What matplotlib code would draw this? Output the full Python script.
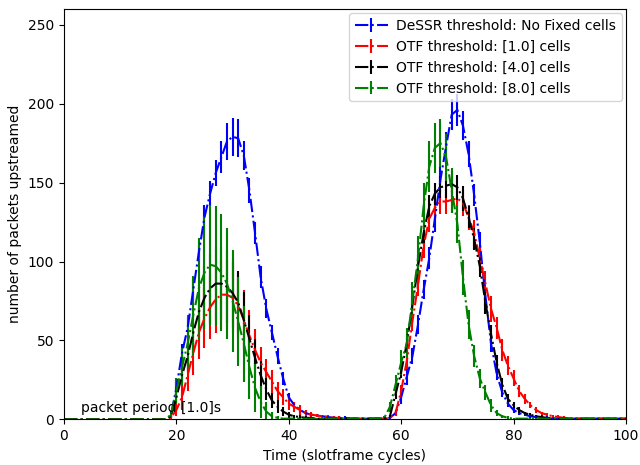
import numpy as np
import matplotlib
matplotlib.use('Agg')
import matplotlib.pyplot as plt

# Time axis: one sample per slotframe cycle
cycles = np.arange(0, 101)

# DeSSR, no fixed cells
dessr_mean = [
    0, 0, 0, 0, 0, 0, 0, 0, 0, 0,
    0, 0, 0, 0, 0, 0, 0, 0, 0, 2,
    20, 42, 58, 82, 106, 128, 143, 156, 166, 176,
    179, 178, 167, 145, 118, 90, 70, 55, 40, 26,
    14, 9, 6, 4, 3, 2.5, 2, 1.5, 1, 1,
    1, 0.5, 0.5, 0.5, 0.5, 0.5, 0.5, 0.5, 1, 4,
    14, 27, 40, 60, 82, 102, 127, 152, 173, 193,
    196, 186, 168, 142, 112, 78, 48, 29, 17, 10,
    6, 4, 3, 2, 1.5, 1, 1, 0.5, 0.5, 0.5,
    0.5, 0.5, 0.5, 0.5, 0.5, 0.5, 0.5, 0.5, 0.5, 0.5, 0.5,
]
dessr_err = [
    0, 0, 0, 0, 0, 0, 0, 0, 0, 0,
    0, 0, 0, 0, 0, 0, 0, 0, 0, 1,
    5, 6, 6, 7, 7, 8, 8, 8, 10, 12,
    12, 12, 9, 8, 7, 7, 6, 5, 5, 4,
    3, 2, 2, 1, 1, 1, 1, 1, 1, 1,
    1, 0.5, 0.5, 0.5, 0.5, 0.5, 0.5, 0.5, 1, 2,
    4, 5, 5, 6, 6, 7, 8, 8, 9, 10,
    10, 9, 8, 7, 7, 6, 5, 4, 3, 2,
    2, 1, 1, 1, 1, 1, 1, 0.5, 0.5, 0.5,
    0.5, 0.5, 0.5, 0.5, 0.5, 0.5, 0.5, 0.5, 0.5, 0.5, 0.5,
]

# OTF threshold 1.0 cells
otf1_mean = [
    0, 0, 0, 0, 0, 0, 0, 0, 0, 0,
    0, 0, 0, 0, 0, 0, 0, 0, 0, 1,
    6, 14, 28, 42, 55, 64, 71, 76, 79, 79,
    77, 72, 63, 53, 44, 36, 30, 24, 18, 14,
    10, 8, 6, 4, 3, 2.5, 2, 1.5, 1, 1,
    0.5, 0.5, 0.5, 0.5, 0.5, 0.5, 0.5, 0.5, 1, 4,
    18, 37, 62, 85, 110, 127, 134, 138, 138, 139,
    140, 137, 128, 118, 102, 86, 70, 58, 44, 34,
    26, 18, 13, 9, 6, 4, 3, 2, 1.5, 1,
    0.5, 0.5, 0.5, 0.5, 0.5, 0.5, 0.5, 0.5, 0.5, 0.5, 0.5,
]
otf1_err = [
    0, 0, 0, 0, 0, 0, 0, 0, 0, 0,
    0, 0, 0, 0, 0, 0, 0, 0, 0, 1,
    4, 8, 10, 14, 17, 19, 20, 21, 22, 22,
    22, 21, 19, 16, 13, 10, 8, 7, 6, 5,
    4, 3, 3, 2, 2, 1, 1, 1, 1, 1,
    0.5, 0.5, 0.5, 0.5, 0.5, 0.5, 0.5, 0.5, 1, 2,
    4, 5, 6, 7, 8, 8, 8, 8, 8, 8,
    8, 8, 8, 8, 8, 8, 8, 7, 7, 6,
    5, 4, 3, 2, 2, 1, 1, 1, 1, 1,
    0.5, 0.5, 0.5, 0.5, 0.5, 0.5, 0.5, 0.5, 0.5, 0.5, 0.5,
]

# OTF threshold 4.0 cells
otf4_mean = [
    0, 0, 0, 0, 0, 0, 0, 0, 0, 0,
    0, 0, 0, 0, 0, 0, 0, 0, 0, 2,
    14, 28, 40, 55, 68, 77, 83, 86, 86, 84,
    80, 74, 63, 51, 39, 28, 19, 12, 8, 5,
    3, 2, 1.5, 1, 1, 0.5, 0.5, 0.5, 0.5, 0.5,
    0.5, 0.5, 0.5, 0.5, 0.5, 0.5, 0.5, 0.5, 2, 16,
    30, 48, 72, 97, 118, 135, 143, 147, 148, 149,
    147, 140, 128, 114, 97, 74, 54, 36, 22, 13,
    9, 6, 4, 3, 2, 1.5, 1, 0.5, 0.5, 0.5,
    0.5, 0.5, 0.5, 0.5, 0.5, 0.5, 0.5, 0.5, 0.5, 0.5, 0.5,
]
otf4_err = [
    0, 0, 0, 0, 0, 0, 0, 0, 0, 0,
    0, 0, 0, 0, 0, 0, 0, 0, 0, 1,
    4, 7, 10, 14, 17, 20, 22, 23, 23, 23,
    22, 20, 18, 15, 12, 9, 7, 5, 4, 3,
    2, 1, 1, 1, 0.5, 0.5, 0.5, 0.5, 0.5, 0.5,
    0.5, 0.5, 0.5, 0.5, 0.5, 0.5, 0.5, 0.5, 1, 3,
    4, 5, 6, 7, 7, 7, 7, 7, 8, 8,
    8, 8, 7, 7, 7, 7, 6, 5, 4, 3,
    2, 2, 1, 1, 1, 1, 0.5, 0.5, 0.5, 0.5,
    0.5, 0.5, 0.5, 0.5, 0.5, 0.5, 0.5, 0.5, 0.5, 0.5, 0.5,
]

# OTF threshold 8.0 cells
otf8_mean = [
    0, 0, 0, 0, 0, 0, 0, 0, 0, 0,
    0, 0, 0, 0, 0, 0, 0, 0, 0, 3,
    18, 33, 48, 66, 83, 93, 98, 97, 93, 86,
    75, 62, 48, 33, 20, 11, 5, 2, 1, 0.5,
    0.5, 0.5, 0.5, 0.5, 0.5, 0.5, 0.5, 0.5, 0.5, 0.5,
    0.5, 0.5, 0.5, 0.5, 0.5, 0.5, 0.5, 1, 8, 22,
    36, 48, 75, 102, 135, 160, 172, 175, 166, 145,
    124, 90, 60, 40, 26, 17, 9, 4, 2, 1,
    0.5, 0.5, 0.5, 0.5, 0.5, 0.5, 0.5, 0.5, 0.5, 0.5,
    0.5, 0.5, 0.5, 0.5, 0.5, 0.5, 0.5, 0.5, 0.5, 0.5, 0.5,
]
otf8_err = [
    0, 0, 0, 0, 0, 0, 0, 0, 0, 0,
    0, 0, 0, 0, 0, 0, 0, 0, 0, 2,
    8, 12, 18, 25, 32, 36, 38, 38, 37, 35,
    32, 28, 24, 20, 15, 10, 6, 3, 1, 0.5,
    0.5, 0.5, 0.5, 0.5, 0.5, 0.5, 0.5, 0.5, 0.5, 0.5,
    0.5, 0.5, 0.5, 0.5, 0.5, 0.5, 0.5, 1, 3, 6,
    8, 10, 12, 14, 15, 16, 16, 15, 15, 14,
    12, 11, 9, 7, 6, 5, 4, 2, 1, 1,
    0.5, 0.5, 0.5, 0.5, 0.5, 0.5, 0.5, 0.5, 0.5, 0.5,
    0.5, 0.5, 0.5, 0.5, 0.5, 0.5, 0.5, 0.5, 0.5, 0.5, 0.5,
]

series = [
    ('DeSSR threshold: No Fixed cells', dessr_mean, dessr_err, 'b'),
    ('OTF threshold: [1.0] cells', otf1_mean, otf1_err, 'r'),
    ('OTF threshold: [4.0] cells', otf4_mean, otf4_err, 'k'),
    ('OTF threshold: [8.0] cells', otf8_mean, otf8_err, 'g'),
]

fig = plt.figure(figsize=(6.4, 4.65), dpi=100)
ax = fig.add_axes([0.1, 0.098, 0.878, 0.883])

for label, mean, err, color in series:
    ax.errorbar(cycles, mean, yerr=err, fmt='-.', color=color,
                linewidth=1.5, elinewidth=1.5, label=label)

ax.text(3, 5, 'packet period [1.0]s', fontsize=10)

ax.set_xlim(0, 100)
ax.set_ylim(0, 260)
ax.set_xlabel('Time (slotframe cycles)')
ax.set_ylabel('number of packets upstreamed')
ax.legend(loc='upper right', fontsize=10, borderaxespad=0.3,
          handlelength=2.4, handletextpad=0.6)

fig.savefig('out.png', dpi=100)
